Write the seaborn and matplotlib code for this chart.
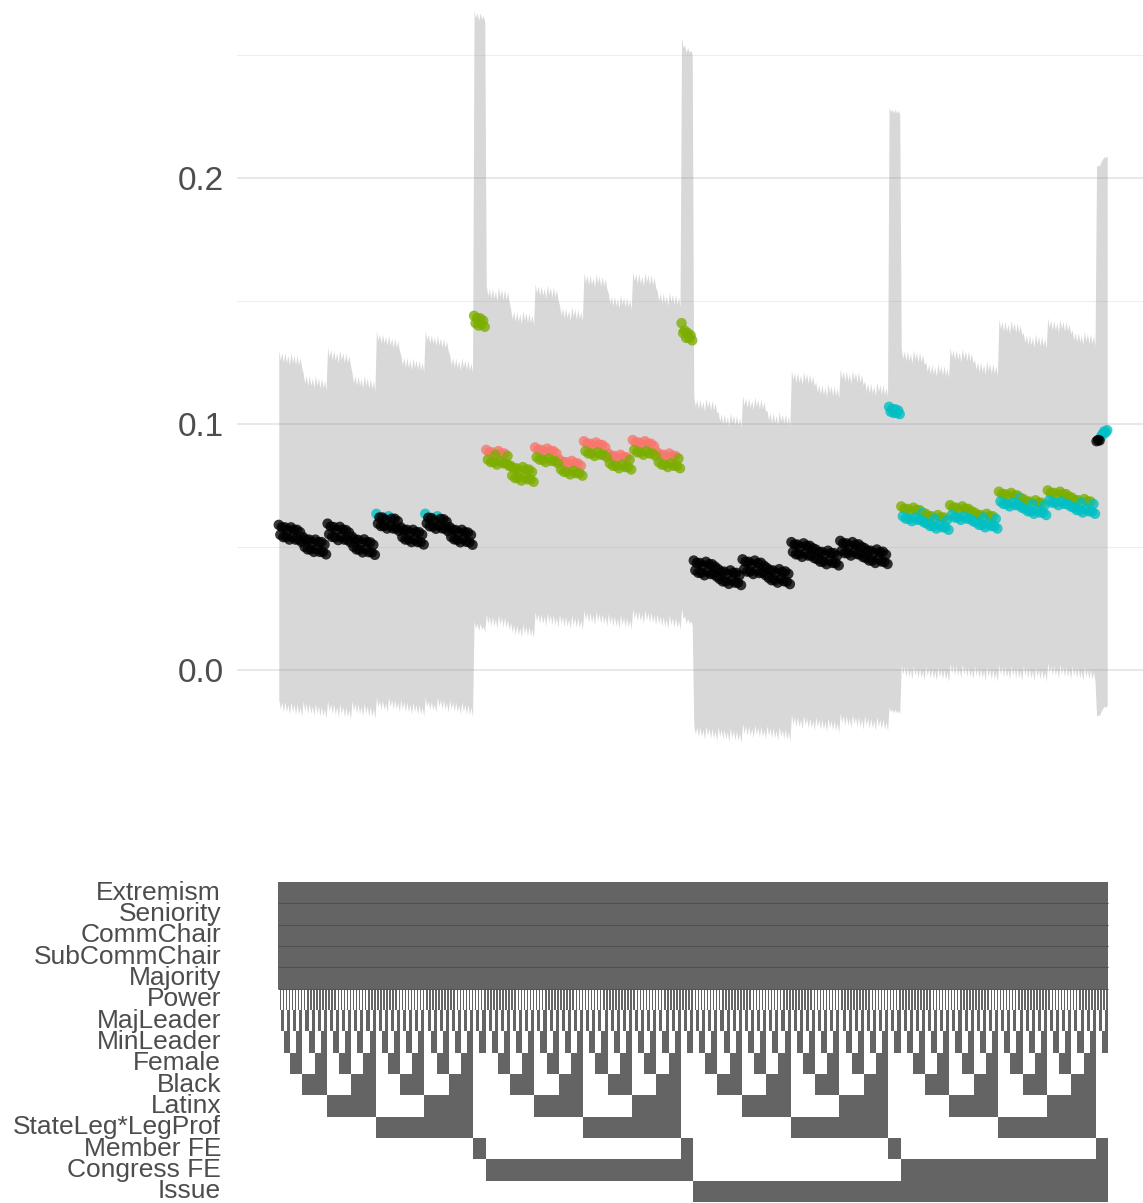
import math
import numpy as np
import pandas as pd
import matplotlib
matplotlib.use("Agg")
import matplotlib.pyplot as plt
from matplotlib.colors import ListedColormap
import seaborn as sns

sns.set_style("white")
plt.rcParams["font.family"] = ["Liberation Sans", "DejaVu Sans"]

# ---------------------------------------------------------------------------
# Specification rows shown in the lower panel (top to bottom)
rows = ["Extremism", "Seniority", "CommChair", "SubCommChair", "Majority",
        "Power", "MajLeader", "MinLeader", "Female", "Black", "Latinx",
        "StateLeg*LegProf", "Member FE", "Congress FE", "Issue"]

# Fixed-effect set of each model group: (Member FE, Congress FE, Issue, full grid?)
group_fe = [(0, 0, 0, True), (1, 0, 0, False), (0, 1, 0, True), (1, 1, 0, False),
            (0, 0, 1, True), (1, 0, 1, False), (0, 1, 1, True), (1, 1, 1, False)]

# Coefficient estimates, one row per block of 8 specifications
# (block order: Female, Black, Latinx, StateLeg*LegProf switched on in binary order)
est_none = [
    [0.0590, 0.0550, 0.0580, 0.0540, 0.0580, 0.0540, 0.0570, 0.0530],
    [0.0580, 0.0540, 0.0570, 0.0530, 0.0570, 0.0530, 0.0560, 0.0520],
    [0.0540, 0.0500, 0.0530, 0.0490, 0.0530, 0.0490, 0.0520, 0.0480],
    [0.0530, 0.0490, 0.0520, 0.0480, 0.0520, 0.0480, 0.0510, 0.0470],
    [0.0595, 0.0552, 0.0583, 0.0541, 0.0581, 0.0539, 0.0570, 0.0528],
    [0.0582, 0.0541, 0.0571, 0.0530, 0.0569, 0.0529, 0.0559, 0.0519],
    [0.0542, 0.0501, 0.0531, 0.0490, 0.0529, 0.0489, 0.0519, 0.0478],
    [0.0531, 0.0490, 0.0520, 0.0479, 0.0519, 0.0478, 0.0509, 0.0468],
    [0.0635, 0.0595, 0.0620, 0.0585, 0.0620, 0.0585, 0.0610, 0.0575],
    [0.0625, 0.0585, 0.0615, 0.0575, 0.0615, 0.0575, 0.0605, 0.0565],
    [0.0580, 0.0540, 0.0570, 0.0530, 0.0570, 0.0530, 0.0560, 0.0520],
    [0.0570, 0.0530, 0.0560, 0.0520, 0.0560, 0.0520, 0.0550, 0.0510],
    [0.0635, 0.0596, 0.0619, 0.0584, 0.0618, 0.0583, 0.0608, 0.0574],
    [0.0625, 0.0586, 0.0614, 0.0576, 0.0613, 0.0574, 0.0603, 0.0564],
    [0.0581, 0.0541, 0.0571, 0.0531, 0.0569, 0.0529, 0.0559, 0.0519],
    [0.0570, 0.0531, 0.0560, 0.0521, 0.0559, 0.0519, 0.0549, 0.0509],
]
se_none = [0.0362, 0.0362, 0.0340, 0.0340, 0.0367, 0.0367, 0.0340, 0.0340,
           0.0380, 0.0375, 0.0357, 0.0357, 0.0380, 0.0375, 0.0357, 0.0357]

est_member = [[0.1440, 0.1410, 0.1430, 0.1400, 0.1430, 0.1405, 0.1420, 0.1395]]
se_member = [0.0633]

est_congress = [
    [0.0895, 0.0855, 0.0885, 0.0845, 0.0885, 0.0845, 0.0875, 0.0835],
    [0.0890, 0.0850, 0.0880, 0.0840, 0.0880, 0.0840, 0.0870, 0.0830],
    [0.0830, 0.0790, 0.0820, 0.0780, 0.0820, 0.0780, 0.0810, 0.0770],
    [0.0825, 0.0785, 0.0815, 0.0775, 0.0815, 0.0775, 0.0805, 0.0765],
    [0.0905, 0.0865, 0.0895, 0.0855, 0.0895, 0.0855, 0.0885, 0.0845],
    [0.0900, 0.0860, 0.0890, 0.0850, 0.0890, 0.0850, 0.0880, 0.0840],
    [0.0855, 0.0815, 0.0845, 0.0805, 0.0845, 0.0805, 0.0835, 0.0795],
    [0.0850, 0.0810, 0.0840, 0.0800, 0.0840, 0.0800, 0.0830, 0.0790],
    [0.0930, 0.0890, 0.0920, 0.0880, 0.0920, 0.0880, 0.0910, 0.0870],
    [0.0925, 0.0885, 0.0915, 0.0875, 0.0915, 0.0875, 0.0905, 0.0865],
    [0.0880, 0.0840, 0.0870, 0.0830, 0.0870, 0.0830, 0.0860, 0.0820],
    [0.0875, 0.0835, 0.0865, 0.0825, 0.0865, 0.0825, 0.0855, 0.0815],
    [0.0935, 0.0895, 0.0925, 0.0885, 0.0925, 0.0885, 0.0915, 0.0875],
    [0.0930, 0.0890, 0.0920, 0.0880, 0.0920, 0.0880, 0.0910, 0.0870],
    [0.0885, 0.0845, 0.0875, 0.0835, 0.0875, 0.0835, 0.0865, 0.0825],
    [0.0880, 0.0840, 0.0870, 0.0830, 0.0870, 0.0830, 0.0860, 0.0820],
]
se_congress = [0.0340, 0.0340, 0.0325, 0.0325, 0.0340, 0.0340, 0.0320, 0.0320,
               0.0350, 0.0350, 0.0332, 0.0332, 0.0350, 0.0350, 0.0335, 0.0335]

est_member_congress = [[0.1410, 0.1370, 0.1380, 0.1350, 0.1370, 0.1350, 0.1360, 0.1340]]
se_member_congress = [0.0592]

est_issue = [
    [0.0445, 0.0405, 0.0435, 0.0395, 0.0435, 0.0395, 0.0425, 0.0385],
    [0.0440, 0.0400, 0.0430, 0.0390, 0.0430, 0.0390, 0.0420, 0.0380],
    [0.0410, 0.0370, 0.0400, 0.0360, 0.0400, 0.0360, 0.0390, 0.0350],
    [0.0405, 0.0365, 0.0395, 0.0355, 0.0395, 0.0355, 0.0385, 0.0345],
    [0.0450, 0.0410, 0.0440, 0.0400, 0.0440, 0.0400, 0.0430, 0.0390],
    [0.0445, 0.0404, 0.0434, 0.0394, 0.0436, 0.0396, 0.0424, 0.0386],
    [0.0415, 0.0375, 0.0405, 0.0365, 0.0405, 0.0365, 0.0395, 0.0355],
    [0.0410, 0.0371, 0.0399, 0.0361, 0.0401, 0.0359, 0.0391, 0.0349],
    [0.0520, 0.0480, 0.0510, 0.0470, 0.0510, 0.0470, 0.0500, 0.0460],
    [0.0515, 0.0475, 0.0505, 0.0465, 0.0505, 0.0465, 0.0495, 0.0455],
    [0.0490, 0.0450, 0.0480, 0.0440, 0.0480, 0.0440, 0.0470, 0.0430],
    [0.0485, 0.0445, 0.0475, 0.0435, 0.0475, 0.0435, 0.0465, 0.0425],
    [0.0525, 0.0485, 0.0515, 0.0475, 0.0515, 0.0475, 0.0505, 0.0465],
    [0.0520, 0.0481, 0.0509, 0.0471, 0.0511, 0.0469, 0.0501, 0.0459],
    [0.0495, 0.0455, 0.0485, 0.0445, 0.0485, 0.0445, 0.0475, 0.0435],
    [0.0490, 0.0451, 0.0479, 0.0441, 0.0481, 0.0439, 0.0469, 0.0431],
]
se_issue = [0.0340, 0.0340, 0.0327, 0.0327, 0.0340, 0.0340, 0.0327, 0.0327,
            0.0357, 0.0357, 0.0347, 0.0347, 0.0357, 0.0357, 0.0347, 0.0347]

est_member_issue = [[0.1070, 0.1050, 0.1060, 0.1045, 0.1060, 0.1045, 0.1055, 0.1040]]
se_member_issue = [0.0622]

est_congress_issue = [
    [0.0665, 0.0625, 0.0655, 0.0615, 0.0655, 0.0615, 0.0645, 0.0605],
    [0.0660, 0.0620, 0.0650, 0.0610, 0.0650, 0.0610, 0.0640, 0.0600],
    [0.0635, 0.0595, 0.0625, 0.0585, 0.0625, 0.0585, 0.0615, 0.0575],
    [0.0630, 0.0590, 0.0620, 0.0580, 0.0620, 0.0580, 0.0610, 0.0570],
    [0.0670, 0.0630, 0.0660, 0.0620, 0.0660, 0.0620, 0.0650, 0.0610],
    [0.0665, 0.0625, 0.0655, 0.0615, 0.0655, 0.0615, 0.0645, 0.0605],
    [0.0640, 0.0600, 0.0630, 0.0590, 0.0630, 0.0590, 0.0620, 0.0580],
    [0.0635, 0.0595, 0.0625, 0.0585, 0.0625, 0.0585, 0.0615, 0.0575],
    [0.0725, 0.0685, 0.0715, 0.0675, 0.0715, 0.0675, 0.0705, 0.0665],
    [0.0720, 0.0680, 0.0710, 0.0670, 0.0710, 0.0670, 0.0700, 0.0660],
    [0.0695, 0.0655, 0.0685, 0.0645, 0.0685, 0.0645, 0.0675, 0.0635],
    [0.0690, 0.0650, 0.0680, 0.0640, 0.0680, 0.0640, 0.0670, 0.0630],
    [0.0730, 0.0690, 0.0720, 0.0680, 0.0720, 0.0680, 0.0710, 0.0670],
    [0.0725, 0.0685, 0.0715, 0.0675, 0.0715, 0.0675, 0.0705, 0.0665],
    [0.0700, 0.0660, 0.0690, 0.0650, 0.0690, 0.0650, 0.0680, 0.0640],
    [0.0695, 0.0655, 0.0685, 0.0645, 0.0685, 0.0645, 0.0675, 0.0635],
]
se_congress_issue = [0.03276, 0.03276, 0.03153, 0.03153, 0.03276, 0.03276, 0.03173, 0.03173,
                     0.03582, 0.03582, 0.03454, 0.03454, 0.03582, 0.03582, 0.03480, 0.03480]

est_all_fe = [[0.0930, 0.0935, 0.0933, 0.0950, 0.0960, 0.0970, 0.0965, 0.0975]]
se_all_fe = [0.0570]

group_est = [est_none, est_member, est_congress, est_member_congress,
             est_issue, est_member_issue, est_congress_issue, est_all_fe]
group_se = [se_none, se_member, se_congress, se_member_congress,
            se_issue, se_member_issue, se_congress_issue, se_all_fe]

sig_levels = ["p < 0.01", "p < 0.05", "p < 0.1", "n.s."]
sig_colors = {"p < 0.01": "#F8766D", "p < 0.05": "#7CAE00",
              "p < 0.1": "#00BFC4", "n.s.": "#000000"}

# ---------------------------------------------------------------------------
# Assemble specification table and design matrix
records, design = [], []
for (mfe, cfe, iss, full), blocks, ses in zip(group_fe, group_est, group_se):
    for b, (block, se) in enumerate(zip(blocks, ses)):
        for k, est in enumerate(block):
            ctrl = [1, 1, 1, 1, 1, k & 1, (k >> 1) & 1, (k >> 2) & 1]
            if full:
                ctrl += [b & 1, (b >> 1) & 1, (b >> 2) & 1, (b >> 3) & 1]
            else:
                ctrl += [0, 0, 0, 0]
            design.append(ctrl + [mfe, cfe, iss])
            p = math.erfc(abs(est / se) / math.sqrt(2))
            sig = ("p < 0.01" if p < 0.01 else "p < 0.05" if p < 0.05
                   else "p < 0.1" if p < 0.1 else "n.s.")
            records.append(dict(est=est, se=se, sig=sig))

df = pd.DataFrame(records)
df["x"] = np.arange(len(df)) + 0.5
df["lo"] = df["est"] - 1.96 * df["se"]
df["hi"] = df["est"] + 1.96 * df["se"]
mat = np.array(design).T
n_spec = len(df)

# ---------------------------------------------------------------------------
W, H = 1143, 1203
fig = plt.figure(figsize=(W / 100, H / 100), dpi=100)
fig.patch.set_facecolor("white")

x_pad_left = 41 / (830 / n_spec)
x_pad_right = 35 / (830 / n_spec)
xlim = (-x_pad_left, n_spec + x_pad_right)

# Upper panel: estimates with 95% intervals
ax = fig.add_axes([237 / W, 1 - 790 / H, 906 / W, 790 / H])
ax.fill_between(df["x"], df["lo"], df["hi"], color="#999999", alpha=0.38,
                linewidth=0, zorder=2)
plot_df = df.sort_values("est", ascending=False, kind="stable")
sns.scatterplot(data=plot_df, x="x", y="est", hue="sig", hue_order=sig_levels,
                palette=sig_colors, s=56, alpha=0.78, linewidth=0,
                legend=False, ax=ax, zorder=3)
ax.set_xlim(*xlim)
ax.set_ylim(-(790 - 670) / 2460, 670 / 2460)
ax.set_yticks([0.0, 0.1, 0.2])
ax.set_yticklabels(["0.0", "0.1", "0.2"])
ax.set_yticks([0.05, 0.15, 0.25], minor=True)
ax.set_xticks([])
ax.set_xlabel("")
ax.set_ylabel("")
ax.grid(axis="y", which="major", color="#e6e6e6", linewidth=1.3, zorder=0)
ax.grid(axis="y", which="minor", color="#eeeeee", linewidth=0.8, zorder=0)
ax.set_axisbelow(True)
ax.tick_params(axis="y", which="major", length=5.8, width=1.6, color="#333333",
               pad=4, labelsize=24, labelcolor="#4d4d4d")
ax.tick_params(axis="y", which="minor", length=0)
for s in ax.spines.values():
    s.set_visible(False)

# Lower panel: which terms enter each specification
axb = fig.add_axes([237 / W, 1 / H, 906 / W, 320 / H])
sns.heatmap(mat, ax=axb, cmap=ListedColormap(["#ffffff", "#646464"]),
            vmin=0, vmax=1, cbar=False, xticklabels=False, yticklabels=rows)
axb.collections[0].set_antialiased(True)
axb.hlines([1, 2, 3, 4, 5], 0, n_spec, color="#4f4f4f", linewidth=0.7)
axb.set_xlim(*xlim)
axb.set_ylim(len(rows), 0)
axb.tick_params(axis="y", length=0, pad=11.5, labelsize=19, labelcolor="#4d4d4d")
for lab in axb.get_yticklabels():
    lab.set_rotation(0)
    lab.set_ha("right")
axb.set_xlabel("")
axb.set_ylabel("")

fig.savefig("out.png", dpi=100, facecolor="white")
